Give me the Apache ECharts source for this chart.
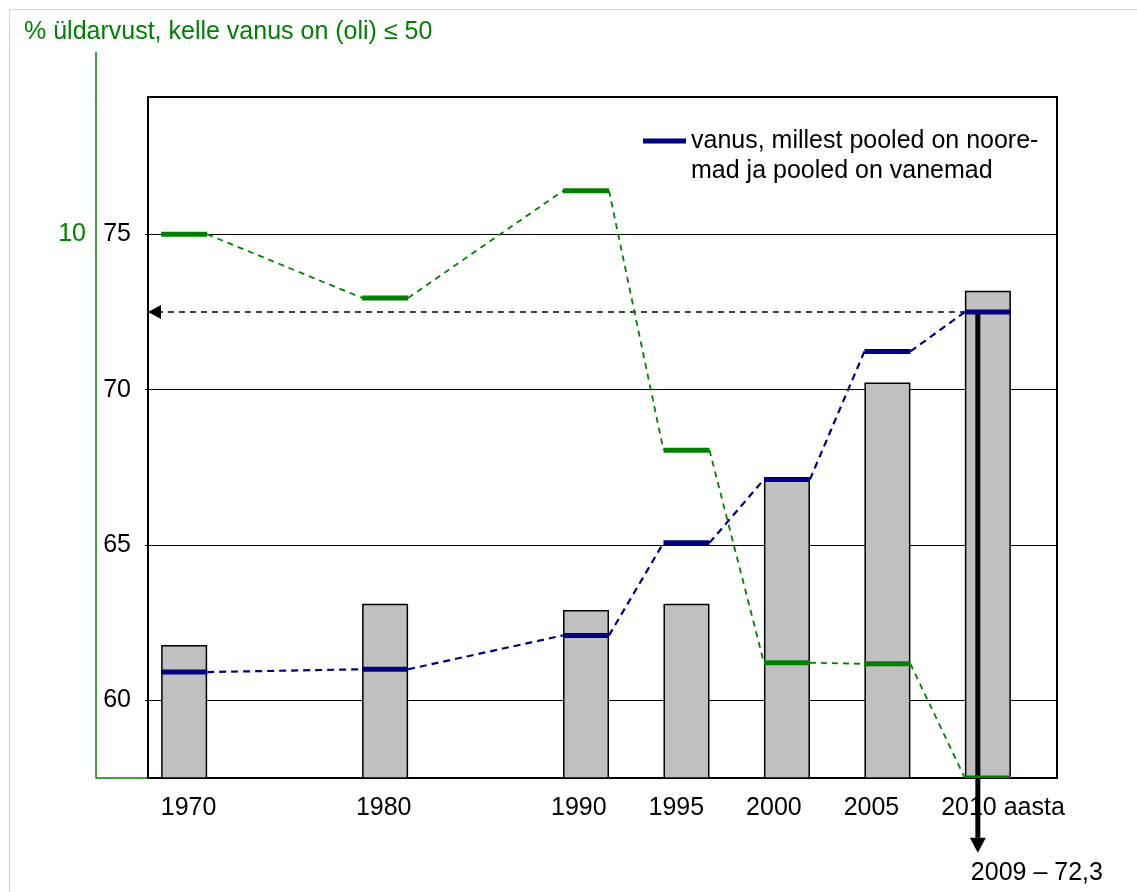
<!DOCTYPE html>
<html lang="et">
<head>
    <meta charset="UTF-8">
    <title>Vanus</title>
    <style>
        html, body { margin: 0; padding: 0; background: #fff; }
        #main { width: 1137px; height: 892px; }
    </style>
</head>
<body>
<div id="main"></div>
<script src="https://cdn.jsdelivr.net/npm/echarts@6/dist/echarts.min.js"></script>
<script>
    // andmed
    const years = [1970, 1980, 1990, 1995, 2000, 2005, 2010];
    const barValues = [61.78, 63.11, 62.91, 63.11, 67.12, 70.23, 73.18];
    const medianAge = [60.91, 61.0, 62.09, 65.07, 67.11, 71.23, 72.5];
    const youngShare = [10.0, 8.83, 10.8, 6.03, 2.12, 2.1, 0];
    const yearLabels = [1970, 1980, 1990, 1995, 2000, 2005, 2010];

    // nool "2009 – 72,3"
    const arrowYear = 2009.5;
    const arrowValue = 72.5;
    const arrowEnd = 55.58;

    const xMin = 1968.2, xMax = 2013.44;
    const yMin = 57.5, yMax = 79.42;
    const shareMax = 12.525;

    const GREEN = '#008000';
    const NAVY = '#000080';
    const FONT = 'Liberation Sans, Arial, sans-serif';
    const blueName = 'vanus, millest pooled on nooremad ja pooled on vanemad';

    const myChart = echarts.init(document.getElementById('main'));

    /* lühike paks joon + katkendjoon järgmise aastani */
    function stepRenderer(values, color, dash, dashWidth) {
        return function (params, api) {
            const i = params.dataIndex;
            const p = api.coord([years[i], values[i]]);
            const half = 23;
            const children = [];
            if (i < years.length - 1) {
                const q = api.coord([years[i + 1], values[i + 1]]);
                children.push({
                    type: 'line',
                    shape: {x1: p[0] + half, y1: p[1], x2: q[0] - half, y2: q[1]},
                    style: {stroke: color, lineWidth: dashWidth, lineDash: dash}
                });
            }
            children.push({
                type: 'line',
                shape: {x1: p[0] - half, y1: p[1], x2: p[0] + half, y2: p[1]},
                style: {stroke: color, lineWidth: 5}
            });
            return {type: 'group', children: children};
        };
    }

    const option = {
        animation: false,
        backgroundColor: '#fff',
        textStyle: {fontFamily: FONT},
        title: {
            text: '% üldarvust, kelle vanus on (oli) ≤ 50',
            left: 24,
            top: 20,
            padding: 0,
            textStyle: {fontSize: 25, fontWeight: 'normal', color: GREEN, fontFamily: FONT}
        },
        legend: {
            left: 643,
            top: 96,
            padding: 0,
            itemWidth: 43,
            itemHeight: 5,
            selectedMode: false,
            data: [{name: blueName, icon: 'rect', itemStyle: {color: NAVY}}],
            formatter: () => '\nvanus, millest pooled on noore-\nmad ja pooled on vanemad',
            textStyle: {fontSize: 25, lineHeight: 30, color: '#000', fontFamily: FONT}
        },
        grid: {
            left: 148, right: 80, top: 97, bottom: 114,
            show: true,
            borderColor: '#000',
            borderWidth: 2,
            backgroundColor: 'transparent'
        },
        xAxis: [
            {
                type: 'value',
                min: xMin,
                max: xMax,
                position: 'bottom',
                axisLine: {show: true, onZero: false, lineStyle: {color: '#000', width: 2}},
                axisTick: {show: false},
                axisLabel: {show: false},
                splitLine: {show: false}
            },
            {
                // ainult aastate sildid
                type: 'value',
                min: 1967.92,
                max: 2014.51,
                splitNumber: 10,
                position: 'bottom',
                axisLine: {show: false, onZero: false},
                axisTick: {show: false},
                splitLine: {show: false},
                axisLabel: {
                    customValues: yearLabels,
                    fontSize: 25,
                    color: '#000',
                    margin: 18,
                    formatter: v => {
                        if (!yearLabels.includes(v)) return '';
                        return v === 2010 ? '{p| }2010 aasta' : String(v);
                    },
                    rich: {p: {width: 68}}
                }
            }
        ],
        yAxis: [
            {
                type: 'value',
                min: yMin,
                max: yMax,
                position: 'left',
                axisLine: {show: true, onZero: false, lineStyle: {color: '#000', width: 2}},
                axisTick: {show: true, length: 3, lineStyle: {color: '#000'}},
                axisLabel: {fontSize: 25, color: '#000', margin: 17, showMinLabel: false, showMaxLabel: false},
                splitLine: {show: true, lineStyle: {color: '#000', width: 1.2}}
            },
            {
                type: 'value',
                min: 0,
                max: shareMax,
                interval: 10,
                position: 'left',
                offset: 52,
                axisLine: {show: true, onZero: false, lineStyle: {color: GREEN, width: 1.5}},
                axisTick: {show: false},
                axisLabel: {
                    fontSize: 25, color: GREEN, margin: 10,
                    formatter: v => (v === 10 ? '10' : '')
                },
                splitLine: {show: false}
            }
        ],
        graphic: [
            {
                type: 'rect', silent: true, z: -1,
                shape: {x: 9.5, y: 9.5, width: 1300, height: 1000},
                style: {fill: 'none', stroke: '#d3d3d3', lineWidth: 1}
            },
            {
                type: 'line', silent: true,
                shape: {x1: 96, y1: 52, x2: 96, y2: 97},
                style: {stroke: GREEN, lineWidth: 1.5}
            },
            {
                type: 'line', silent: true,
                shape: {x1: 96, y1: 778, x2: 149, y2: 778},
                style: {stroke: GREEN, lineWidth: 1.5}
            }
        ],
        series: [
            {
                name: 'tulp',
                type: 'bar',
                xAxisIndex: 0,
                yAxisIndex: 0,
                barWidth: 46,
                silent: true,
                z: 2,
                itemStyle: {color: '#c0c0c0', borderColor: '#000', borderWidth: 1.5},
                data: years.map((y, i) => [y, barValues[i]])
            },
            {
                // katkendnool teljele
                name: 'noolH',
                type: 'line',
                xAxisIndex: 0,
                yAxisIndex: 0,
                silent: true,
                z: 3,
                lineStyle: {color: '#000', width: 1.5, type: [6, 5]},
                itemStyle: {color: '#000'},
                data: [
                    {value: [years[years.length - 1], medianAge[medianAge.length - 1]], symbol: 'none'},
                    {
                        value: [xMin, medianAge[medianAge.length - 1]],
                        symbol: 'path://M0,7 L13,0 L13,14 Z',
                        symbolSize: [13, 14],
                        symbolOffset: [6.5, 0]
                    }
                ]
            },
            {
                // paks nool alla
                name: 'noolV',
                type: 'line',
                xAxisIndex: 0,
                yAxisIndex: 0,
                silent: true,
                clip: false,
                z: 3,
                lineStyle: {color: '#000', width: 5, type: 'solid'},
                itemStyle: {color: '#000'},
                data: [
                    {value: [arrowYear, arrowValue], symbol: 'none'},
                    {
                        value: [arrowYear, arrowEnd],
                        symbol: 'path://M0,0 L16,0 L8,15 Z',
                        symbolSize: [16, 15],
                        symbolOffset: [0, 7.5],
                        label: {
                            show: true,
                            position: 'bottom',
                            distance: 8,
                            align: 'left',
                            offset: [-7, 0],
                            formatter: '2009 – 72,3',
                            fontSize: 25,
                            color: '#000',
                            fontFamily: FONT
                        }
                    }
                ]
            },
            {
                name: 'alla50',
                type: 'custom',
                xAxisIndex: 0,
                yAxisIndex: 1,
                silent: true,
                clip: true,
                z: 4,
                itemStyle: {color: GREEN},
                renderItem: stepRenderer(youngShare, GREEN, [6, 5], 1.8),
                data: years.map((y, i) => [y, youngShare[i]])
            },
            {
                name: blueName,
                type: 'custom',
                xAxisIndex: 0,
                yAxisIndex: 0,
                silent: true,
                z: 5,
                itemStyle: {color: NAVY},
                renderItem: stepRenderer(medianAge, NAVY, [7, 5], 2.2),
                data: years.map((y, i) => [y, medianAge[i]])
            }
        ]
    };

    myChart.setOption(option);
</script>
</body>
</html>
